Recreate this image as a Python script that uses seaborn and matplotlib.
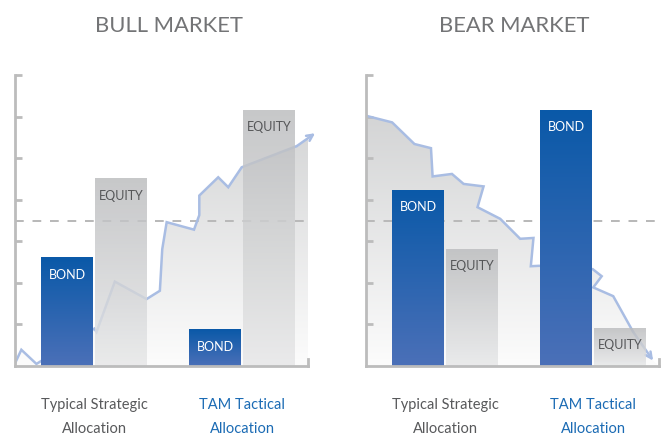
import numpy as np
import pandas as pd
import matplotlib
matplotlib.use('Agg')
import matplotlib.pyplot as plt
from matplotlib.colors import LinearSegmentedColormap
from matplotlib.patches import Polygon
import seaborn as sns

# data (y axis 0..7, groups at x = 0 and 1)
groups = ['Typical Strategic\nAllocation', 'TAM Tactical\nAllocation']
assets = ['BOND', 'EQUITY']
bull_bond = [2.6, 0.87]
bull_equity = [4.5, 6.15]
bear_bond = [4.23, 6.15]
bear_equity = [2.81, 0.91]

# background market path
bull_x = [-0.539, -0.494, -0.392, 0.0, 0.015, 0.139, 0.354, 0.444, 0.460, 0.490,
          0.675, 0.711, 0.711, 0.839, 0.907, 0.998, 1.371, 1.495]
bull_y = [0.05, 0.39, 0.05, 0.9, 0.82, 2.03, 1.61, 1.81, 2.81, 3.46,
          3.28, 3.63, 4.10, 4.54, 4.30, 4.78, 5.29, 5.60]
bear_x = [-0.537, -0.360, -0.209, -0.097, -0.086, 0.045, 0.124, 0.259, 0.218, 0.372,
          0.507, 0.597, 0.579, 0.635, 0.998, 1.059, 1.002, 1.137, 1.272, 1.407]
bear_y = [6.02, 5.86, 5.34, 5.24, 4.56, 4.62, 4.38, 4.32, 3.82, 3.54,
          3.06, 3.08, 2.40, 2.41, 2.33, 2.16, 1.89, 1.68, 0.82, 0.13]

sns.set_theme(style='white')
plt.rcParams['font.family'] = ['Lato', 'DejaVu Sans']

spine_col = '#bcbcbc'
line_col = '#a9bde3'
xlim = (-0.537, 1.447)

bond_cmap = LinearSegmentedColormap.from_list('bond', ['#0a59a8', '#4b70b8'])
eq_cmap = LinearSegmentedColormap.from_list('eq', ['#bbbcbe', '#e6e7e8'])
area_cmap = LinearSegmentedColormap.from_list('area', ['#cdcecf', '#fcfcfc'])
grad = np.linspace(0, 1, 256).reshape(-1, 1)

fig = plt.figure(figsize=(6.67, 4.39), dpi=100)
ax1 = fig.add_axes([15 / 667, 72 / 439, 293 / 667, 291 / 439])
ax2 = fig.add_axes([366 / 667, 72 / 439, 293 / 667, 291 / 439])

panels = [
    (ax1, 'BULL MARKET', 0.526, bull_bond, bull_equity, bull_x, bull_y),
    (ax2, 'BEAR MARKET', 0.505, bear_bond, bear_equity, bear_x, bear_y),
]

for ax, title, tx, bond, equity, px, py in panels:
    df = pd.DataFrame({
        'group': groups * 2,
        'asset': ['BOND'] * 2 + ['EQUITY'] * 2,
        'value': bond + equity,
    })
    sns.barplot(data=df, x='group', y='value', hue='asset', order=groups, hue_order=assets,
                palette={'BOND': '#1f5fad', 'EQUITY': '#c8c9cb'}, width=0.73, gap=0.04,
                errorbar=None, legend=False, ax=ax)
    bars = list(ax.patches)

    # gradient fill for every bar, labels near the top
    for bar in bars:
        x0, y0 = bar.get_x(), bar.get_y()
        w, h = bar.get_width(), bar.get_height()
        cx = x0 + w / 2
        is_bond = cx < round(cx)   # bond is the left bar of each group
        ax.imshow(grad, extent=[x0, x0 + w, y0, y0 + h], aspect='auto',
                  cmap=bond_cmap if is_bond else eq_cmap,
                  alpha=1.0 if is_bond else 0.82, zorder=4 if is_bond else 3)
        bar.set_visible(False)
        ax.annotate('BOND' if is_bond else 'EQUITY', xy=(cx, y0 + h), xytext=(0, -11.5),
                    textcoords='offset points', ha='center', va='center', fontsize=9,
                    color='white' if is_bond else '#555658', zorder=6)

    # shaded area under the market path
    x_end = xlim[1]
    pts = [(a, b) for a, b in zip(px, py) if a <= x_end]
    nxt = [(a, b) for a, b in zip(px, py) if a > x_end]
    if nxt:
        (xa, ya), (xb, yb) = pts[-1], nxt[0]
    else:
        (xa, ya), (xb, yb) = pts[-2], pts[-1]
    y_end = max(ya + (yb - ya) * (x_end - xa) / (xb - xa), 0)
    pts = pts + [(x_end, y_end), (x_end, 0), (px[0], 0)]
    poly = Polygon(pts, closed=True, facecolor='none', edgecolor='none', transform=ax.transData)
    ax.add_patch(poly)
    im = ax.imshow(grad, extent=[xlim[0], xlim[1], 0, 7], aspect='auto', cmap=area_cmap, zorder=0.5)
    im.set_clip_path(poly)

    ax.axhline(3.5, color='#b8b8b8', lw=1.4, dashes=(4.5, 4.5), zorder=1)

    ax.plot(px[:-1], py[:-1], color=line_col, lw=1.8, zorder=2, solid_joinstyle='miter')
    ax.annotate('', xy=(px[-1], py[-1]), xytext=(px[-2], py[-2]), annotation_clip=False,
                arrowprops=dict(arrowstyle='->', color=line_col, lw=1.8, shrinkA=0, shrinkB=0,
                                mutation_scale=11), zorder=2)

    ax.set_xlim(*xlim)
    ax.set_ylim(0, 7)
    ax.set_xlabel('')
    ax.set_ylabel('')
    ax.set_yticks(range(1, 8))
    ax.set_yticklabels([])
    ax.tick_params(axis='y', direction='in', length=5, width=2, color=spine_col, left=True)
    ax.tick_params(axis='x', length=0, pad=22, labelsize=10.5)
    for lab, col in zip(ax.get_xticklabels(), ['#58595b', '#1b6bb4']):
        lab.set_color(col)
        lab.set_linespacing(1.95)

    ax.spines['top'].set_visible(False)
    ax.spines['right'].set_bounds(0, 0.18)
    for s in ['left', 'bottom', 'right']:
        ax.spines[s].set_color(spine_col)
        ax.spines[s].set_linewidth(2)
        ax.spines[s].set_zorder(7)
    ax.patch.set_alpha(0)

    ax.text(tx, (367 - 32) / 291, title, transform=ax.transAxes, ha='center', va='baseline',
            fontsize=15.8, color='#737476')

fig.savefig('out.png', dpi=100)
